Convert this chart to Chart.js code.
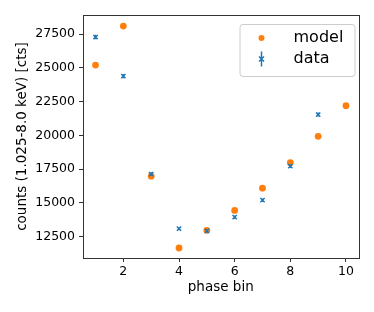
<!DOCTYPE html>
<html>
<head>
<meta charset="utf-8">
<script src="https://cdn.jsdelivr.net/npm/chart.js@4/dist/chart.umd.min.js"></script>
<style>
    html, body { margin: 0; padding: 0; background: #fff; }
    #wrap { width: 374px; height: 312px; }
</style>
</head>
<body>
<div id="wrap"><canvas id="chart" width="374" height="312"></canvas></div>
<script>
// Values
const phaseBins = [1, 2, 3, 4, 5, 6, 7, 8, 9, 10];
const modelCounts = [25200, 28090, 16980, 11660, 12970, 14440, 16090, 17970, 19930, 22200];
const dataCounts = [27280, 24380, 17130, 13090, 12920, 13940, 15200, 17720, 21540, null];
const dataErrors = [165, 156, 131, 114, 114, 118, 123, 133, 147, null];
const xTicks = [2, 4, 6, 8, 10];
const yTicks = [12500, 15000, 17500, 20000, 22500, 25000, 27500];

const ORANGE = '#ff7f0e';
const BLUE = '#1f77b4';
const FONT = "'DejaVu Sans', sans-serif";

function toPoints(values) {
    return phaseBins.map((x, i) => ({ x: x, y: values[i] }));
}

// Error bars drawn under the data markers
const errorBars = {
    id: 'errorBars',
    beforeDatasetDraw(chart, args) {
        if (args.index !== 1) return;
        const ctx = chart.ctx;
        const xs = chart.scales.x, ys = chart.scales.y;
        ctx.save();
        ctx.strokeStyle = BLUE;
        ctx.lineWidth = 1.5;
        dataCounts.forEach((v, i) => {
            if (v === null) return;
            const px = xs.getPixelForValue(phaseBins[i]);
            ctx.beginPath();
            ctx.moveTo(px, ys.getPixelForValue(v - dataErrors[i]));
            ctx.lineTo(px, ys.getPixelForValue(v + dataErrors[i]));
            ctx.stroke();
        });
        ctx.restore();
    }
};

// Box around the plot area
const frame = {
    id: 'frame',
    afterDraw(chart) {
        const { ctx, chartArea: a } = chart;
        ctx.save();
        ctx.strokeStyle = '#333';
        ctx.lineWidth = 1;
        ctx.strokeRect(Math.round(a.left) + 0.5, Math.round(a.top) + 0.5,
            Math.round(a.right - a.left), Math.round(a.bottom - a.top));
        ctx.restore();
    }
};

// Legend in the upper right corner, matplotlib style
const boxLegend = {
    id: 'boxLegend',
    afterDraw(chart) {
        const { ctx, chartArea: a } = chart;
        const w = 115, h = 52;
        const x0 = a.right - 4 - w, y0 = a.top + 9;
        ctx.save();
        ctx.fillStyle = 'rgba(255,255,255,0.8)';
        ctx.strokeStyle = '#cccccc';
        ctx.lineWidth = 1;
        ctx.beginPath();
        ctx.roundRect(x0 + 0.5, y0 + 0.5, w, h, 3);
        ctx.fill();
        ctx.stroke();

        const mx = x0 + 22;
        const tx = x0 + 54;
        const r1 = y0 + 14, r2 = y0 + 35;
        // model
        ctx.fillStyle = ORANGE;
        ctx.beginPath();
        ctx.arc(mx, r1, 3, 0, Math.PI * 2);
        ctx.fill();
        // data
        ctx.strokeStyle = BLUE;
        ctx.lineWidth = 1.5;
        ctx.beginPath();
        ctx.moveTo(mx, r2 - 7.5);
        ctx.lineTo(mx, r2 + 7.5);
        ctx.moveTo(mx - 2.5, r2 - 2.5);
        ctx.lineTo(mx + 2.5, r2 + 2.5);
        ctx.moveTo(mx - 2.5, r2 + 2.5);
        ctx.lineTo(mx + 2.5, r2 - 2.5);
        ctx.stroke();

        ctx.fillStyle = '#000';
        ctx.font = '16px ' + FONT;
        ctx.textBaseline = 'middle';
        ctx.fillText(chart.data.datasets[0].label, tx, r1);
        ctx.fillText(chart.data.datasets[1].label, tx, r2);
        ctx.restore();
    }
};

function setTicks(values) {
    return function(scale) {
        scale.ticks = values.map(v => ({ value: v }));
    };
}

new Chart(document.getElementById('chart'), {
    type: 'scatter',
    data: {
        datasets: [{
            label: 'model',
            data: toPoints(modelCounts),
            backgroundColor: ORANGE,
            borderColor: ORANGE,
            pointRadius: 3.4,
            borderWidth: 0,
            order: 1
        }, {
            label: 'data',
            data: toPoints(dataCounts),
            pointStyle: 'crossRot',
            borderColor: BLUE,
            backgroundColor: BLUE,
            pointRadius: 3,
            borderWidth: 1.5,
            order: 0
        }]
    },
    options: {
        responsive: false,
        animation: false,
        layout: { padding: { left: 0, top: 15, right: 15.5, bottom: 0 } },
        plugins: {
            legend: { display: false },
            tooltip: { enabled: false }
        },
        scales: {
            x: {
                type: 'linear',
                min: 0.55,
                max: 10.45,
                afterBuildTicks: setTicks(xTicks),
                afterFit(scale) { scale.height = 54; },
                grid: { drawOnChartArea: false, drawTicks: true, tickLength: 4, color: '#333' },
                border: { display: false },
                ticks: { color: '#000', font: { family: FONT, size: 12.5 }, padding: 2, maxRotation: 0, callback: v => String(v) },
                title: { display: true, text: 'phase bin', color: '#000', font: { family: FONT, size: 13.5 }, padding: { top: 0, bottom: 16 } }
            },
            y: {
                type: 'linear',
                min: 10918,
                max: 28911,
                afterBuildTicks: setTicks(yTicks),
                afterFit(scale) { scale.width = 83; },
                grid: { drawOnChartArea: false, drawTicks: true, tickLength: 4, color: '#333' },
                border: { display: false },
                ticks: { color: '#000', font: { family: FONT, size: 12.5 }, padding: 4, callback: v => String(v) },
                title: { display: true, text: 'counts (1.025-8.0 keV) [cts]', color: '#000', font: { family: FONT, size: 13.5 }, padding: { top: 14, bottom: 0 } }
            }
        }
    },
    plugins: [errorBars, frame, boxLegend]
});
</script>
</body>
</html>
